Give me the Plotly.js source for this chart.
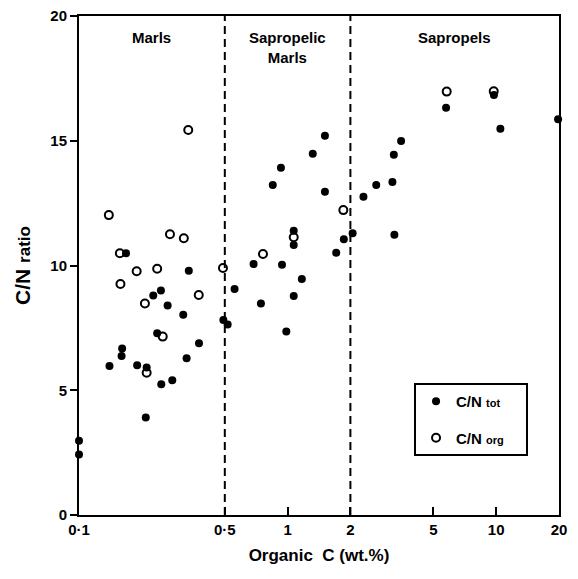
<!DOCTYPE html>
<html>
<head>
<meta charset="utf-8">
<script src="https://cdn.plot.ly/plotly-3.0.1.min.js"></script>
<style>html,body{margin:0;padding:0;background:#fff;}#chart{width:578px;height:579px;}</style>
</head>
<body>
<div id="chart"></div>
<script>
// C/N tot (filled dots)
const totC = [0.1, 0.1, 0.140, 0.160, 0.161, 0.168, 0.190, 0.209, 0.211, 0.227, 0.237, 0.247, 0.248, 0.266, 0.280, 0.316, 0.328, 0.336, 0.376, 0.492, 0.516, 0.557, 0.687, 0.745, 0.849, 0.929, 0.94, 0.986, 1.07, 1.07, 1.07, 1.17, 1.32, 1.51, 1.51, 1.71, 1.86, 2.05, 2.31, 2.66, 3.18, 3.23, 3.50, 3.25, 5.75, 9.75, 10.47, 19.8];
const totCN = [2.98, 2.42, 5.97, 6.37, 6.67, 10.49, 6.0, 3.91, 5.91, 8.80, 7.28, 9.0, 5.24, 8.40, 5.40, 8.03, 6.28, 9.79, 6.88, 7.82, 7.64, 9.06, 10.06, 8.48, 13.23, 13.92, 10.03, 7.35, 11.39, 10.82, 8.78, 9.46, 14.48, 15.20, 12.96, 10.51, 11.05, 11.29, 12.76, 13.23, 13.35, 14.44, 14.99, 11.23, 16.32, 16.83, 15.48, 15.86];
// C/N org (open circles)
const orgC = [0.139, 0.157, 0.158, 0.189, 0.207, 0.211, 0.237, 0.252, 0.273, 0.318, 0.334, 0.375, 0.490, 0.762, 1.07, 1.85, 5.79, 9.73];
const orgCN = [12.02, 10.49, 9.26, 9.77, 8.48, 5.70, 9.87, 7.15, 11.25, 11.09, 15.43, 8.82, 9.90, 10.46, 11.13, 12.22, 16.97, 16.98];
// facies boundaries and labels
const boundaries = [0.5, 2];
const regionLabels = ["Marls", "Sapropelic<br>Marls", "Sapropels"];
const regionX = [Math.sqrt(0.1*0.5), Math.sqrt(0.5*2), Math.sqrt(2*20)];
const xTickVals = [0.1, 0.5, 1, 2, 5, 10, 20];
const xTickText = ["0·1", "0·5", "1", "2", "5", "10", "20"];
const yTickVals = [0, 5, 10, 15, 20];
const yTickText = ["0", "5", "10", "15", "20"];

const FONT = "Liberation Sans, Arial, sans-serif";
const bold = a => a.map(t => "<b>" + t + "</b>");

const traces = [
  {x: totC, y: totCN, mode: "markers", type: "scatter", legendgroup: "a",
   name: "<b>C/N <span style='font-size:11px'>tot</span></b>&nbsp;&nbsp;&nbsp;&nbsp;",
   marker: {symbol: "circle", size: 8, color: "#000"}, cliponaxis: false},
  {x: orgC, y: orgCN, mode: "markers", type: "scatter", legendgroup: "b",
   name: "<b>C/N <span style='font-size:11px'>org</span></b>&nbsp;&nbsp;&nbsp;&nbsp;",
   marker: {symbol: "circle-open", size: 8, color: "#000", line: {width: 2, color: "#000"}}, cliponaxis: false}
];

const shapes = boundaries.map(b => ({
  type: "line", xref: "x", yref: "paper", x0: b, x1: b, y0: 0, y1: 1,
  line: {color: "#000", width: 2, dash: "8px,5px"}
}));

const annotations = regionLabels.map((t, i) => ({
  x: Math.log10(regionX[i]), y: 20, xref: "x", yref: "y", text: "<b>" + t + "</b>",
  showarrow: false, yanchor: "top", yshift: -11, font: {family: FONT, size: 15, color: "#000"}
}));

const layout = {
  width: 578, height: 579,
  margin: {l: 79, r: 19, t: 16, b: 64},
  paper_bgcolor: "#fff", plot_bgcolor: "#fff",
  font: {family: FONT, color: "#000"},
  showlegend: true,
  legend: {x: 0.698, y: 0.2645, xanchor: "left", yanchor: "top",
           bordercolor: "#000", borderwidth: 2, bgcolor: "#fff", traceorder: "grouped",
           font: {family: FONT, size: 15, color: "#000"}, itemwidth: 30, tracegroupgap: 14},
  xaxis: {type: "log", range: [-1, Math.log10(20)], tickvals: xTickVals, ticktext: bold(xTickText),
          ticks: "inside", ticklen: 8, tickwidth: 2, tickcolor: "#000",
          showline: true, linewidth: 2, linecolor: "#000", mirror: true,
          showgrid: false, zeroline: false,
          tickfont: {family: FONT, size: 15, color: "#000"},
          title: {text: "<b>Organic  C (wt.%)</b>", font: {family: FONT, size: 17, color: "#000"}, standoff: 12}},
  yaxis: {range: [0, 20], tickvals: yTickVals, ticktext: bold(yTickText), ticks: "outside", ticklen: 7, tickwidth: 2, tickcolor: "#000",
          showline: true, linewidth: 2, linecolor: "#000", mirror: true,
          showgrid: false, zeroline: false,
          tickfont: {family: FONT, size: 15, color: "#000"},
          title: {text: "<b>C/N <span style='font-size:17px'>ratio</span></b>", font: {family: FONT, size: 21, color: "#000"}, standoff: 14}},
  shapes: shapes,
  annotations: annotations
};

Plotly.newPlot("chart", traces, layout, {displayModeBar: false, staticPlot: true});
</script>
</body>
</html>
